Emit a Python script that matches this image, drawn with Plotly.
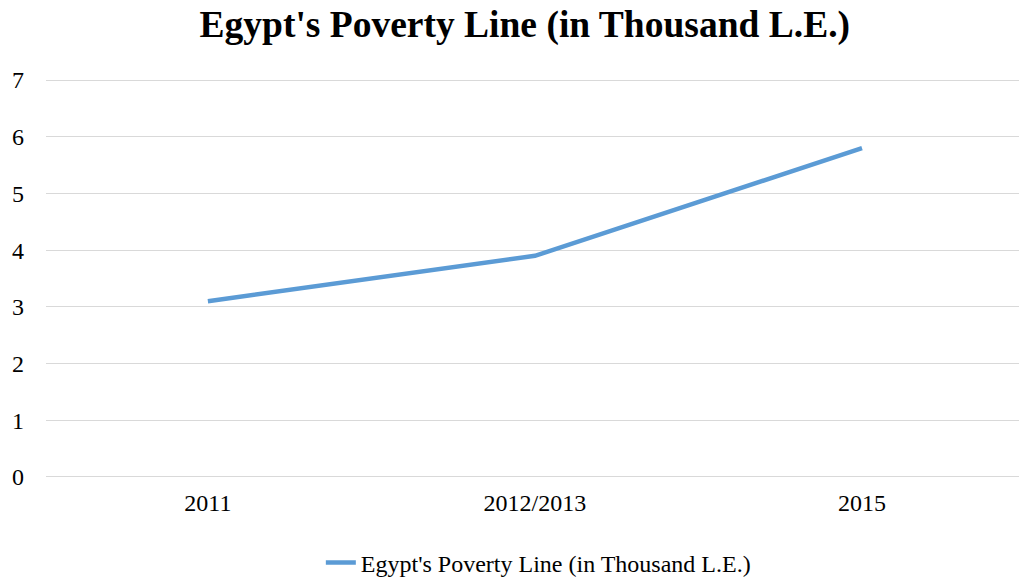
import plotly.graph_objects as go

categories = ["2011", "2012/2013", "2015"]
values = [3.1, 3.9, 5.8]
series_name = "Egypt's Poverty Line (in Thousand L.E.)"
y_ticks = [0, 1, 2, 3, 4, 5, 6, 7]

fig = go.Figure()
fig.add_trace(go.Scatter(
    x=categories, y=values, mode="lines", name=series_name,
    line=dict(color="#5B9BD5", width=4.5),
))

serif = "Liberation Serif, Times New Roman, serif"
fig.update_layout(
    width=1019, height=578,
    margin=dict(l=46, r=0, t=79, b=100, autoexpand=False),
    paper_bgcolor="white", plot_bgcolor="white",
    title=dict(text="<b>Egypt's Poverty Line (in Thousand L.E.)</b>",
               x=0.515, xanchor="center", y=0.958, yanchor="middle",
               font=dict(family=serif, size=37.5, color="black")),
    font=dict(family=serif, size=24, color="black"),
    showlegend=True,
    legend=dict(orientation="h", x=0.506, xanchor="center", y=-0.213, yanchor="middle",
                font=dict(family=serif, size=24, color="black")),
    xaxis=dict(type="category", range=[-0.495, 2.48], showgrid=False, zeroline=False,
               showline=False, ticks="", ticklabelstandoff=8,
               tickfont=dict(family=serif, size=24)),
    yaxis=dict(range=[-0.018, 7.018], tickvals=y_ticks, showgrid=True, gridcolor="#D9D9D9",
               gridwidth=1.3, zeroline=False, showline=False, ticks="",
               ticklabelstandoff=21, tickfont=dict(family=serif, size=24)),
)

fig.write_html("out.html")
